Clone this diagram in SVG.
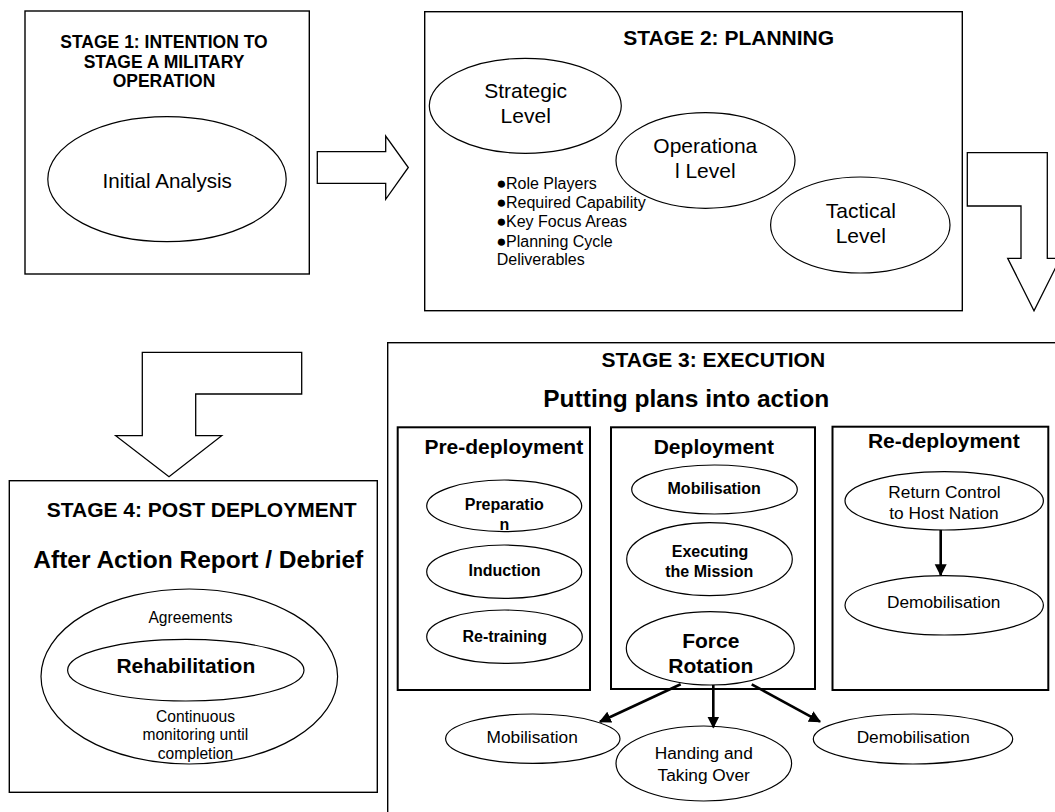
<svg xmlns="http://www.w3.org/2000/svg" width="1055" height="812" viewBox="0 0 1055 812">
<style>
text{font-family:"Liberation Sans",Arial,sans-serif;fill:#000;text-anchor:middle}
.b{font-weight:bold}
.box{fill:#fff;stroke:#000;stroke-width:1.4}
.sub{fill:#fff;stroke:#000;stroke-width:2}
.el{fill:#fff;stroke:#000;stroke-width:1.2}
.blk{fill:#fff;stroke:#000;stroke-width:1.3;stroke-linejoin:miter}
.ln{stroke:#000;stroke-width:2.6;fill:none}
.t21{font-size:21px}
.t16{font-size:16px}
.t17{font-size:17.3px}
.bul{font-size:17px}
</style>
<defs>
<marker id="ah" viewBox="0 0 10 10" refX="9" refY="5" markerUnits="userSpaceOnUse" markerWidth="12" markerHeight="13" orient="auto">
<path d="M0,0 L10,5 L0,10 z" fill="#000"/>
</marker>
</defs>
<rect width="1055" height="812" fill="#fff"/>

<g id="stage1">
<rect class="box" x="25" y="11" width="284.3" height="263"/>
<text class="b" font-size="17.5" x="164" y="48.3">STAGE 1: INTENTION TO</text>
<text class="b" font-size="17.5" x="164" y="68.3">STAGE A MILITARY</text>
<text class="b" font-size="17.5" x="164" y="87.3">OPERATION</text>
<g id="initial-analysis">
<ellipse class="el" cx="167" cy="179.2" rx="119.2" ry="62.5"/>
<text font-size="20.6" x="167.2" y="188.3">Initial Analysis</text>
</g>
</g>

<g id="stage2">
<rect class="box" x="424.7" y="11.7" width="537.6" height="299"/>
<text class="b t21" x="728.7" y="45">STAGE 2: PLANNING</text>
<g id="strategic">
<ellipse class="el" cx="525.3" cy="105.8" rx="96" ry="47.5"/>
<text class="t21" x="525.7" y="98.3">Strategic</text>
<text class="t21" x="525.7" y="123.3">Level</text>
</g>
<g id="operational">
<ellipse class="el" cx="705.5" cy="160.5" rx="89.5" ry="47.8"/>
<text class="t21" x="705.3" y="153.3">Operationa</text>
<text class="t21" x="705.3" y="178.3">l Level</text>
</g>
<g id="tactical">
<ellipse class="el" cx="860.3" cy="225" rx="89.7" ry="48"/>
<text class="t21" x="860.8" y="218.3">Tactical</text>
<text class="t21" x="860.8" y="242.7">Level</text>
</g>
<g id="bullets" font-size="16">
<text x="496.2" y="189" style="text-anchor:start"><tspan class="bul">●</tspan><tspan x="506">Role Players</tspan></text>
<text x="496.2" y="208.3" style="text-anchor:start"><tspan class="bul">●</tspan><tspan x="506">Required Capability</tspan></text>
<text x="496.2" y="227.3" style="text-anchor:start"><tspan class="bul">●</tspan><tspan x="506">Key Focus Areas</tspan></text>
<text x="496.2" y="246.7" style="text-anchor:start"><tspan class="bul">●</tspan><tspan x="506">Planning Cycle</tspan></text>
<text x="496.7" y="265" style="text-anchor:start">Deliverables</text>
</g>
</g>

<g id="stage3">
<rect class="box" x="387.7" y="342.7" width="680" height="480" stroke-width="1.6"/>
<text class="b t21" x="713.3" y="366.7">STAGE 3: EXECUTION</text>
<text class="b" font-size="24.5" x="686.2" y="407.3">Putting plans into action</text>

<g id="pre-deployment">
<rect class="sub" x="397.7" y="427.3" width="192.3" height="262.7"/>
<text class="b t21" x="503.8" y="454">Pre-deployment</text>
<g id="preparation">
<ellipse class="el" cx="504.2" cy="505.8" rx="77.5" ry="25.8"/>
<text class="b t16" x="504.3" y="510">Preparatio</text>
<text class="b t16" x="504.3" y="530">n</text>
</g>
<g id="induction">
<ellipse class="el" cx="504.2" cy="571.7" rx="77.5" ry="26.7"/>
<text class="b t16" x="504.5" y="576">Induction</text>
</g>
<g id="retraining">
<ellipse class="el" cx="504.5" cy="636.7" rx="77.8" ry="26.7"/>
<text class="b t16" x="504.7" y="641.7">Re-training</text>
</g>
</g>

<g id="deployment">
<rect class="sub" x="611" y="427.3" width="204" height="261.7"/>
<text class="b t21" x="713.8" y="454">Deployment</text>
<g id="mobilisation-dep">
<ellipse class="el" cx="714.5" cy="489.5" rx="82.8" ry="24.5"/>
<text class="b t16" x="714.2" y="494.3">Mobilisation</text>
</g>
<g id="executing">
<ellipse class="el" cx="709.5" cy="559.2" rx="82.8" ry="36.5"/>
<text class="b t16" x="710" y="556.7">Executing</text>
<text class="b t16" x="709.2" y="576.7">the Mission</text>
</g>
<g id="force-rotation">
<ellipse class="el" cx="710.3" cy="648.3" rx="84" ry="36.7"/>
<text class="b t21" x="710.8" y="648.3">Force</text>
<text class="b t21" x="710.8" y="673.3">Rotation</text>
</g>
</g>

<g id="re-deployment">
<rect class="sub" x="832.5" y="426.7" width="215.8" height="263.3" stroke-width="1.5"/>
<text class="b t21" x="943.8" y="448.3">Re-deployment</text>
<g id="return-control">
<ellipse class="el" cx="944.2" cy="500.8" rx="99.2" ry="29.2"/>
<text class="t17" x="944.5" y="498.3">Return Control</text>
<text class="t17" x="944" y="519.3">to Host Nation</text>
</g>
<g id="demobilisation-redep">
<ellipse class="el" cx="944.2" cy="605.3" rx="99.2" ry="29.7"/>
<text class="t17" x="943.7" y="607.7">Demobilisation</text>
</g>
</g>

<g id="mobilisation-out">
<ellipse class="el" cx="532.8" cy="738.7" rx="87.2" ry="24.7"/>
<text class="t17" x="532.2" y="743.3">Mobilisation</text>
</g>
<g id="handing">
<ellipse class="el" cx="703.8" cy="763.5" rx="87.8" ry="37.5"/>
<text class="t17" x="703.8" y="759">Handing and</text>
<text class="t17" x="703.7" y="780.5">Taking Over</text>
</g>
<g id="demobilisation-out">
<ellipse class="el" cx="913" cy="739" rx="99.7" ry="25"/>
<text class="t17" x="913.3" y="742.7">Demobilisation</text>
</g>
</g>

<g id="stage4">
<rect class="box" x="9.3" y="480.7" width="368" height="311.6"/>
<text class="b t21" x="201.7" y="517.3">STAGE 4: POST DEPLOYMENT</text>
<text class="b" font-size="24.5" x="198.3" y="568.3">After Action Report / Debrief</text>
<g id="agreements">
<ellipse class="el" cx="189.3" cy="676.5" rx="148.3" ry="87.5"/>
<text font-size="15.6" x="190.5" y="623.3">Agreements</text>
<text font-size="15.6" x="195.5" y="721.7">Continuous</text>
<text font-size="15.6" x="195.3" y="740.3">monitoring until</text>
<text font-size="15.6" x="195.5" y="759">completion</text>
</g>
<g id="rehabilitation">
<ellipse class="el" cx="185.8" cy="670.2" rx="118.2" ry="30.8"/>
<text class="b t21" x="185.8" y="673.3">Rehabilitation</text>
</g>
</g>

<g id="connectors">
<polygon class="blk" points="317.3,151.7 385.7,151.7 385.7,136 408.3,167.5 385.7,199.3 385.7,183.3 317.3,183.3"/>
<polygon class="blk" points="967.3,152.7 1047.3,152.7 1047.3,258.3 1060.3,258.3 1034,310.7 1007.7,258.3 1021,258.3 1021,206 967.3,206"/>
<polygon class="blk" points="142.3,352.3 301.7,352.3 301.7,394 195.7,394 195.7,435.7 221.7,435.7 169,476.7 115.7,435.7 142.3,435.7"/>
<line class="ln" x1="940.7" y1="530" x2="940.7" y2="575" marker-end="url(#ah)"/>
<line class="ln" x1="680.7" y1="684.3" x2="600" y2="721.7" marker-end="url(#ah)"/>
<line class="ln" x1="713.3" y1="685" x2="713.3" y2="727.3" marker-end="url(#ah)"/>
<line class="ln" x1="751.7" y1="684.3" x2="820" y2="721.7" marker-end="url(#ah)"/>
</g>
</svg>
